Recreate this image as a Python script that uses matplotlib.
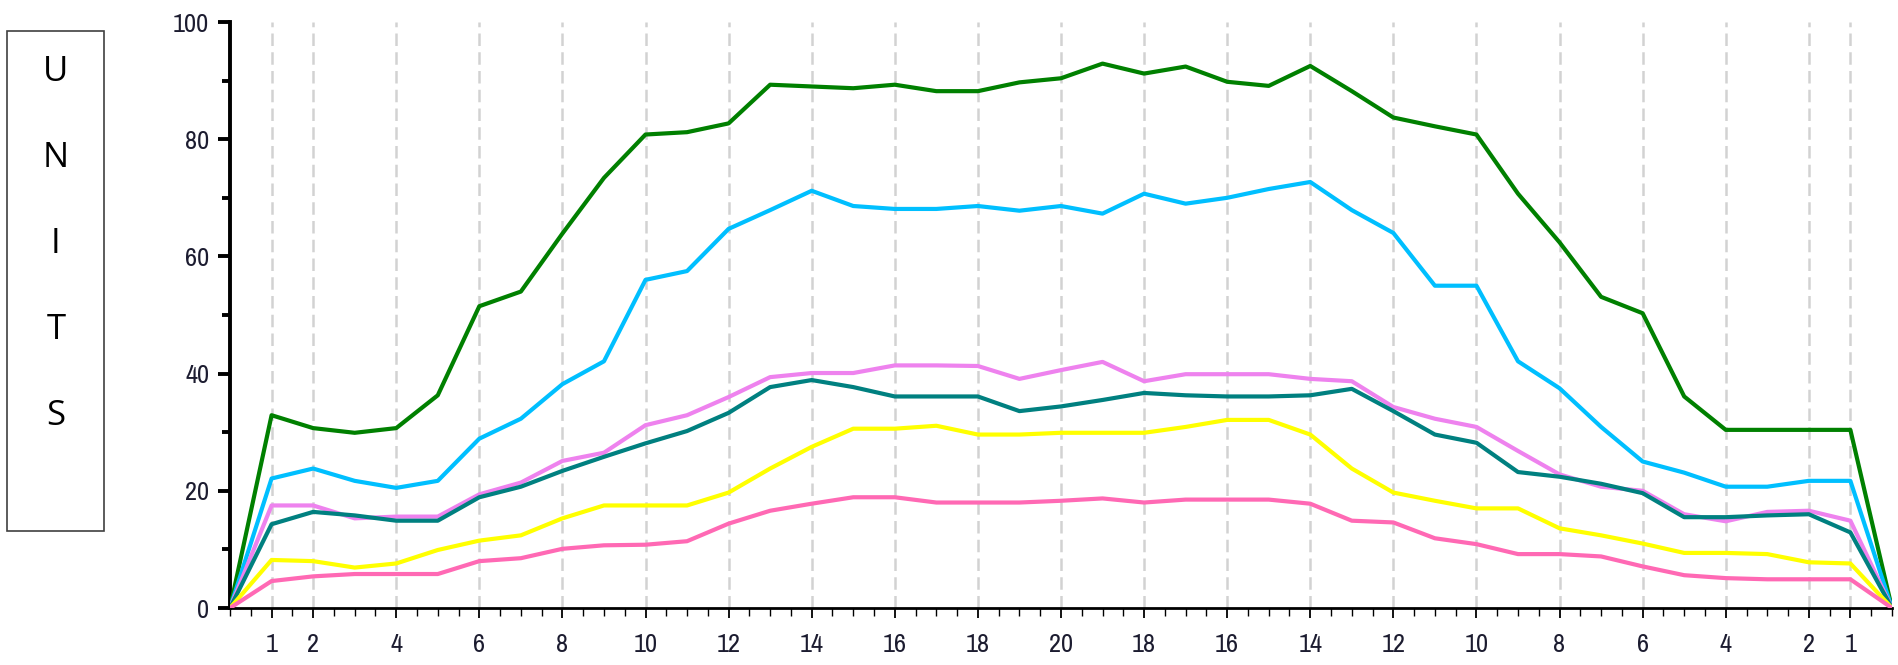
import matplotlib
matplotlib.use("Agg")
import matplotlib.pyplot as plt
from matplotlib.patches import Rectangle
from matplotlib.ticker import MultipleLocator, FixedLocator
from matplotlib import font_manager

# data (index 0 and 40 are the zero end points)
x_idx = list(range(41))
green = [0, 32.9, 30.7, 29.9, 30.7, 36.3, 51.5, 54.0, 63.9, 73.4, 80.8, 81.2, 82.7, 89.3, 89.0, 88.7,
         89.3, 88.2, 88.2, 89.7, 90.4, 92.9, 91.2, 92.4, 89.8, 89.1, 92.5, 88.2, 83.7, 82.2, 80.8,
         70.7, 62.4, 53.1, 50.3, 36.1, 30.4, 30.4, 30.4, 30.4, 0]
blue = [0, 22.1, 23.8, 21.7, 20.5, 21.7, 28.9, 32.3, 38.2, 42.1, 56.0, 57.5, 64.7, 67.9, 71.2, 68.6,
        68.1, 68.1, 68.6, 67.8, 68.6, 67.3, 70.7, 69.0, 70.0, 71.5, 72.7, 67.9, 64.0, 55.0, 55.0,
        42.1, 37.5, 30.9, 25.0, 23.1, 20.7, 20.7, 21.7, 21.7, 0]
violet = [0, 17.5, 17.5, 15.3, 15.6, 15.6, 19.4, 21.4, 25.1, 26.5, 31.2, 32.9, 36.0, 39.4, 40.1, 40.1,
          41.4, 41.4, 41.3, 39.1, 40.6, 42.0, 38.7, 39.9, 39.9, 39.9, 39.1, 38.7, 34.3, 32.3, 30.9,
          26.8, 22.8, 20.7, 20.0, 16.0, 14.8, 16.4, 16.6, 14.9, 0]
teal = [0, 14.3, 16.4, 15.8, 14.9, 14.9, 18.9, 20.7, 23.4, 25.8, 28.1, 30.2, 33.3, 37.7, 38.9, 37.7,
        36.1, 36.1, 36.1, 33.6, 34.4, 35.5, 36.7, 36.3, 36.1, 36.1, 36.3, 37.4, 33.6, 29.6, 28.2,
        23.2, 22.4, 21.2, 19.6, 15.5, 15.5, 15.8, 16.0, 12.9, 0]
yellow = [0, 8.2, 8.0, 6.9, 7.6, 9.9, 11.5, 12.4, 15.3, 17.5, 17.5, 17.5, 19.7, 23.8, 27.5, 30.6,
          30.6, 31.1, 29.6, 29.6, 29.9, 29.9, 29.9, 30.9, 32.1, 32.1, 29.6, 23.8, 19.7, 18.3, 17.0,
          17.0, 13.6, 12.4, 11.0, 9.4, 9.4, 9.2, 7.8, 7.6, 0]
pink = [0, 4.6, 5.4, 5.8, 5.8, 5.8, 8.0, 8.5, 10.1, 10.7, 10.8, 11.4, 14.4, 16.6, 17.8, 18.9,
        18.9, 18.0, 18.0, 18.0, 18.3, 18.7, 18.0, 18.5, 18.5, 18.5, 17.8, 14.9, 14.6, 11.9, 10.9,
        9.2, 9.2, 8.8, 7.1, 5.6, 5.1, 4.9, 4.9, 4.9, 0]

tick_pos = [1, 2, 4, 6, 8, 10, 12, 14, 16, 18, 20, 22, 24, 26, 28, 30, 32, 34, 36, 38, 39]
tick_labels = ["1", "2", "4", "6", "8", "10", "12", "14", "16", "18", "20",
               "18", "16", "14", "12", "10", "8", "6", "4", "2", "1"]
ylabel_letters = ["U", "N", "I", "T", "S"]

series = [
    (green, "#008000"),
    (blue, "#00bfff"),
    (violet, "#ee82ee"),
    (teal, "#008080"),
    (yellow, "#ffff00"),
    (pink, "#ff69b4"),
]

# pick a narrow face for the numbers if one is around
narrow = None
for f in font_manager.fontManager.ttflist:
    if "Narrow" in f.name or "Condensed" in f.name:
        narrow = f.name
        break
    if f.name == "DejaVu Sans" and f.stretch == "condensed":
        narrow = "cond"
num_font = [narrow, "DejaVu Sans"] if narrow not in (None, "cond") else ["DejaVu Sans"]
num_stretch = "condensed"
text_col = "#1c1c30"

fig = plt.figure(figsize=(18.98, 6.65), dpi=100)
ax = fig.add_axes([0.1212, 0.0857, 0.8756, 0.8812])

# dashed grid only at labelled positions
for p in tick_pos:
    ax.axvline(p, color="#d2d2d2", lw=1.8, ls=(0, (5, 2.5)), zorder=1)

for vals, col in series:
    ax.plot(x_idx, vals, color=col, lw=3.0, zorder=3)

ax.set_xlim(0, 40)
ax.set_ylim(0, 100)

for side in ("top", "right"):
    ax.spines[side].set_visible(False)
ax.spines["left"].set_linewidth(2.8)
ax.spines["bottom"].set_linewidth(2.0)

ax.xaxis.set_major_locator(FixedLocator(tick_pos))
ax.set_xticklabels(tick_labels)
ax.xaxis.set_minor_locator(MultipleLocator(0.5))
ax.yaxis.set_major_locator(MultipleLocator(20))
ax.yaxis.set_minor_locator(MultipleLocator(10))

ax.tick_params(axis="y", which="major", length=9, width=2.8, pad=6, labelsize=19,
               labelcolor=text_col)
ax.tick_params(axis="y", which="minor", length=6, width=2.8)
ax.tick_params(axis="x", which="major", length=7, width=1.3, pad=11, labelsize=19,
               labelcolor=text_col)
ax.tick_params(axis="x", which="minor", length=6, width=1.0)
for lab in ax.get_xticklabels() + ax.get_yticklabels():
    lab.set_family(num_font)
    lab.set_stretch(num_stretch)

# boxed vertical "UNITS" label
fig.patches.append(Rectangle((7 / 1898, 1 - 531 / 665), 97 / 1898, 500 / 665,
                             transform=fig.transFigure, fill=False,
                             edgecolor="#404040", lw=1.2))
for k, ch in enumerate(ylabel_letters):
    fig.text(56 / 1898, 1 - (72 + 86 * k) / 665, ch, ha="center", va="center",
             fontsize=25, family=["Open Sans", "DejaVu Sans"], color="black")

fig.savefig("out.png", dpi=100)
